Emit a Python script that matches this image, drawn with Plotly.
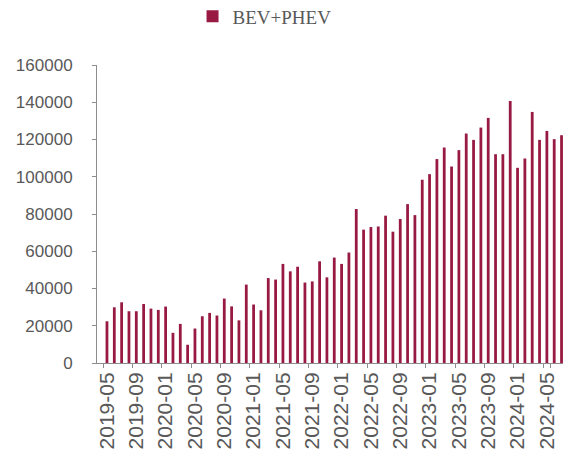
import plotly.graph_objects as go

months = []
y0, m0 = 2019, 5
for i in range(63):
    yy = y0 + (m0 - 1 + i) // 12
    mm = (m0 - 1 + i) % 12 + 1
    months.append(f"{yy}-{mm:02d}")

values = [
    22400, 29900, 32600, 27800, 27800, 31700, 29200, 28500, 30300, 16200, 21000,
    9800, 18500, 25100, 26900, 25500, 34600, 30400, 22900, 42100, 31400, 28300,
    45600, 44800, 53200, 49200, 51700, 43200, 43800, 54600, 46000, 56600, 53200, 59300,
    82700, 71600, 73000, 73300, 79100, 70500, 77300, 85300, 79400, 98400, 101400,
    109500, 115700, 105500, 114300, 123200, 119800, 126400, 131600, 112100, 112100, 140700,
    104800, 109800, 134800, 119800, 124600, 120200, 122300,
]

tick_labels = [m for i, m in enumerate(months) if i % 4 == 0]
y_ticks = [0, 20000, 40000, 60000, 80000, 100000, 120000, 140000, 160000]

fig = go.Figure()
fig.add_trace(go.Bar(
    x=months, y=values, name="BEV+PHEV",
    marker=dict(color="#981A42", line=dict(width=0)),
    showlegend=True,
))

fig.update_layout(
    width=563, height=459,
    margin=dict(l=97, r=0, t=65, b=96, autoexpand=False),
    paper_bgcolor="white", plot_bgcolor="white",
    bargap=0.62,
    showlegend=True,
    legend=dict(
        orientation="h", xref="container", yref="container",
        x=0.342, xanchor="left", y=0.9645, yanchor="middle",
        font=dict(family="Liberation Serif", size=19, color="#595959"),
        itemwidth=30,
    ),
    xaxis=dict(
        type="category",
        range=[-1.36, 62.2],
        tickmode="array", tickvals=tick_labels, ticktext=tick_labels,
        tickangle=-90,
        tickson="boundaries",
        ticks="outside", ticklen=4, tickcolor="#8c8c8c",
        showline=True, linecolor="#8c8c8c", linewidth=1,
        showgrid=False,
        automargin=False,
        tickfont=dict(family="Liberation Sans", size=21, color="#595959"),
    ),
    yaxis=dict(
        range=[0, 160000],
        tickmode="array", tickvals=y_ticks, ticktext=[str(v) for v in y_ticks],
        ticks="outside", ticklen=4, tickcolor="#8c8c8c",
        showline=True, linecolor="#8c8c8c", linewidth=1,
        showgrid=False, zeroline=False,
        automargin=False,
        ticklabelstandoff=16,
        tickfont=dict(family="Liberation Sans", size=17, color="#595959"),
    ),
)

fig.write_html(
    "out.html",
    config={"displayModeBar": False},
    post_script="document.body.style.margin='0';document.body.style.overflow='hidden';",
)
